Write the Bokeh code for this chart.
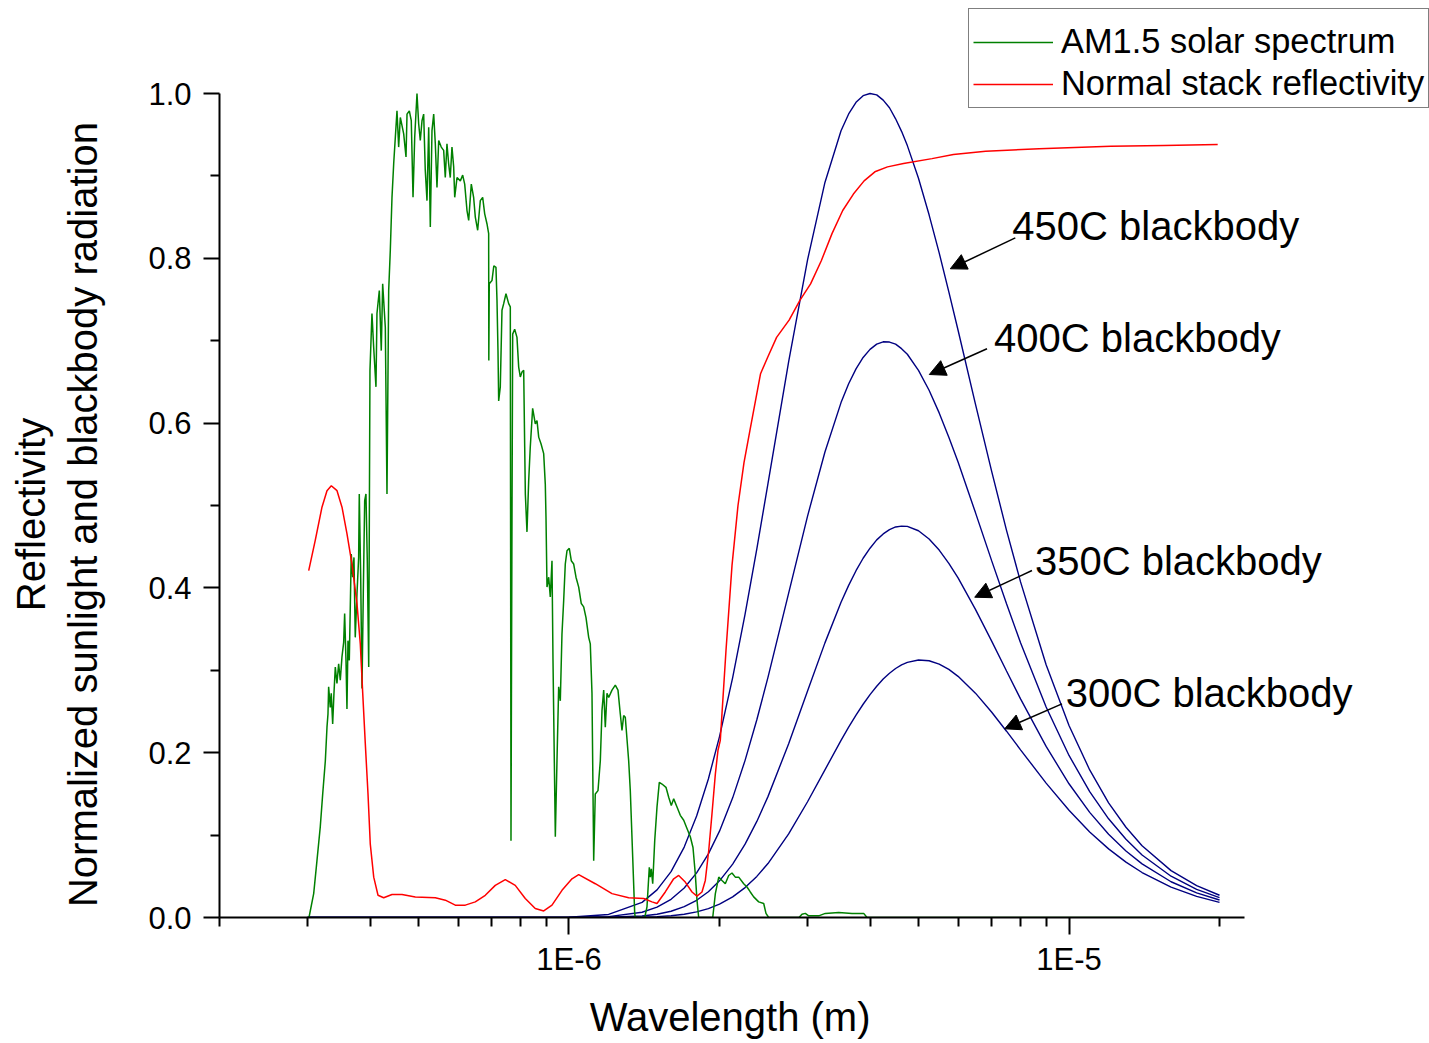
from bokeh.plotting import figure
from bokeh.models import (FixedTicker, Range1d, Legend, LegendItem, Label, Arrow,
                          NormalHead, CustomJSTickFormatter, PrintfTickFormatter)
from bokeh.embed import file_html
from bokeh.resources import INLINE

UM = 1e-6  # values below are in micrometres

# ---------------- AM1.5 solar spectrum (normalized) ----------------
am15_wl_um = [
    0.302, 0.3086, 0.3133, 0.3181, 0.3217, 0.3256, 0.3281, 0.3296, 0.3306, 0.3331,
    0.3346, 0.3368, 0.3388, 0.3409, 0.3435, 0.3462, 0.3488, 0.3515, 0.3543, 0.3559,
    0.3581, 0.3597, 0.3614, 0.3636, 0.3669, 0.3693, 0.3715, 0.3737, 0.3767, 0.3796,
    0.3807, 0.3832, 0.3855, 0.3878, 0.3903, 0.3926, 0.3950, 0.3976, 0.3999, 0.4036,
    0.4068, 0.4111, 0.4130, 0.4175, 0.4213, 0.4240, 0.4292, 0.4325, 0.4359, 0.4392,
    0.4426, 0.4461, 0.4529, 0.4564, 0.4599, 0.4671, 0.4721, 0.4743, 0.4794, 0.4837,
    0.4876, 0.4914, 0.4966, 0.5005, 0.5042, 0.5082, 0.5121, 0.5159, 0.5200, 0.5241,
    0.5280, 0.5321, 0.5363, 0.5403, 0.5445, 0.5488, 0.5553, 0.5615, 0.5657, 0.5701,
    0.5745, 0.5788, 0.5834, 0.5880, 0.5908, 0.5971, 0.6063, 0.6129, 0.6186, 0.6252,
    0.6301, 0.6377, 0.6446, 0.6496, 0.6567, 0.6647, 0.6720, 0.6783, 0.6854, 0.6908,
    0.6913, 0.6927, 0.7014, 0.7074, 0.7144, 0.7178, 0.7211, 0.7234, 0.7288, 0.7345,
    0.7403, 0.7481, 0.7575, 0.7632, 0.7656, 0.7691, 0.7716, 0.7787, 0.7870, 0.7932,
    0.7991, 0.8054, 0.8117, 0.8155, 0.8179, 0.8241, 0.8306, 0.8367, 0.8459, 0.8563,
    0.8630, 0.8698, 0.8791, 0.8900, 0.8966, 0.8995, 0.9037, 0.9108, 0.9175, 0.9247,
    0.9290, 0.9390, 0.9462, 0.9536, 0.9608, 0.9682, 0.9759, 0.9831, 0.9908, 1.0014,
    1.0106, 1.0219, 1.0328, 1.0457, 1.0582, 1.0700, 1.0815, 1.0949, 1.1031, 1.1117,
    1.1205, 1.1287, 1.1429, 1.1551, 1.1641, 1.1733, 1.1820, 1.1912, 1.2006, 1.2190,
    1.2377, 1.2531, 1.2665, 1.2764, 1.2864, 1.2960, 1.3164, 1.3262, 1.3410, 1.3534,
    1.3572, 1.4173, 1.4322, 1.4475, 1.4542, 1.4609, 1.4704, 1.4840, 1.4997, 1.5157,
    1.5346, 1.5631, 1.5827, 1.6018, 1.6196, 1.6444, 1.6696, 1.6960, 1.7219, 1.7483,
    1.7701, 1.7889, 1.8030, 1.8171, 1.9386, 1.9620, 1.9930, 2.0230, 2.0540, 2.0865,
    2.1184, 2.1509, 2.1849, 2.2358, 2.2699, 2.3047, 2.3411, 2.3956, 2.4514, 2.4774,
    2.5084, 2.884, 2.9242, 2.9690, 3.0158, 3.1580, 3.2556, 3.4624, 3.6813, 3.8851,
    3.9446, 20.0,
]
am15_val = [
    0.000, 0.029, 0.069, 0.110, 0.150, 0.190, 0.231, 0.247, 0.280, 0.255,
    0.272, 0.235, 0.272, 0.304, 0.284, 0.308, 0.288, 0.316, 0.334, 0.369,
    0.312, 0.253, 0.336, 0.312, 0.441, 0.413, 0.437, 0.340, 0.393, 0.437,
    0.514, 0.413, 0.278, 0.393, 0.506, 0.514, 0.433, 0.304, 0.664, 0.733,
    0.692, 0.644, 0.733, 0.761, 0.688, 0.769, 0.716, 0.514, 0.761, 0.810,
    0.874, 0.915, 0.979, 0.935, 0.971, 0.951, 0.923, 0.975, 0.979, 0.967,
    0.874, 0.947, 1.000, 0.963, 0.943, 0.967, 0.975, 0.907, 0.870, 0.959,
    0.838, 0.955, 0.975, 0.939, 0.886, 0.943, 0.935, 0.931, 0.898, 0.939,
    0.915, 0.898, 0.935, 0.911, 0.874, 0.898, 0.894, 0.901, 0.890, 0.858,
    0.846, 0.890, 0.874, 0.850, 0.834, 0.870, 0.874, 0.854, 0.842, 0.830,
    0.676, 0.769, 0.773, 0.791, 0.789, 0.749, 0.688, 0.627, 0.644, 0.737,
    0.745, 0.757, 0.745, 0.741, 0.093, 0.482, 0.708, 0.714, 0.704, 0.668,
    0.656, 0.662, 0.664, 0.571, 0.514, 0.468, 0.530, 0.571, 0.618, 0.599,
    0.603, 0.583, 0.575, 0.563, 0.526, 0.486, 0.401, 0.413, 0.389, 0.433,
    0.312, 0.098, 0.190, 0.280, 0.263, 0.344, 0.385, 0.429, 0.445, 0.448,
    0.433, 0.429, 0.413, 0.401, 0.381, 0.377, 0.364, 0.340, 0.332, 0.272,
    0.069, 0.150, 0.154, 0.190, 0.251, 0.276, 0.231, 0.272, 0.267, 0.276,
    0.282, 0.276, 0.247, 0.227, 0.245, 0.243, 0.190, 0.154, 0.073, 0.005,
    0.000, 0.000, 0.013, 0.061, 0.049, 0.059, 0.041, 0.093, 0.134, 0.164,
    0.162, 0.158, 0.146, 0.136, 0.144, 0.134, 0.124, 0.118, 0.108, 0.098,
    0.085, 0.053, 0.021, 0.000, 0.000, 0.029, 0.049, 0.045, 0.041, 0.051,
    0.054, 0.049, 0.049, 0.041, 0.037, 0.031, 0.025, 0.019, 0.017, 0.005,
    0.000, 0.000, 0.004, 0.005, 0.002, 0.002, 0.005, 0.006, 0.005, 0.005,
    0.000, 0.000,
]

# ---------------- Normal stack reflectivity ----------------
refl_wl_um = [
    0.3016, 0.3109, 0.3206, 0.3281, 0.3347, 0.3436, 0.3516, 0.3597, 0.3681, 0.3767,
    0.3825, 0.3868, 0.3914, 0.3963, 0.4005, 0.4069, 0.4150, 0.4260, 0.4426, 0.4634,
    0.4928, 0.5403, 0.5658, 0.5924, 0.6203, 0.6495, 0.6801, 0.7121, 0.7457, 0.7808,
    0.8176, 0.8561, 0.8901, 0.9247, 0.9683, 1.0139, 1.0457, 1.1288, 1.2190, 1.3164,
    1.4107, 1.4655, 1.4997, 1.5580, 1.6196, 1.6573, 1.7082, 1.7620, 1.8030, 1.8450,
    1.8733, 1.9029, 1.9320, 1.9620, 1.9861, 2.0073, 2.0606, 2.1184, 2.1777, 2.2387,
    2.3004, 2.4162, 2.4968, 2.6013, 2.7555, 2.8958, 3.0420, 3.1959, 3.3574, 3.5272,
    3.7052, 3.8923, 4.0904, 4.3351, 4.6666, 5.3211, 5.8720, 6.8123, 8.7136, 12.115,
    15.488, 19.833,
]
refl_val = [
    0.421, 0.458, 0.498, 0.518, 0.524, 0.518, 0.498, 0.466, 0.429, 0.381,
    0.332, 0.272, 0.211, 0.150, 0.089, 0.049, 0.027, 0.024, 0.028, 0.028,
    0.025, 0.024, 0.021, 0.015, 0.015, 0.019, 0.027, 0.039, 0.046, 0.039,
    0.023, 0.011, 0.008, 0.015, 0.033, 0.047, 0.052, 0.041, 0.029, 0.024,
    0.023, 0.019, 0.017, 0.031, 0.047, 0.051, 0.043, 0.031, 0.026, 0.031,
    0.045, 0.081, 0.126, 0.174, 0.203, 0.215, 0.324, 0.427, 0.500, 0.552,
    0.591, 0.660, 0.680, 0.704, 0.725, 0.749, 0.769, 0.797, 0.830, 0.858,
    0.878, 0.894, 0.905, 0.911, 0.915, 0.921, 0.926, 0.930, 0.933, 0.936,
    0.937, 0.938,
]

# ---------------- Blackbody curves (normalized to 450C peak) ----------------
bb_wl_um = [
    0.3, 0.8, 1.0, 1.2, 1.4, 1.5, 1.6, 1.7, 1.8, 1.9, 2.0, 2.125, 2.25, 2.375, 2.5,
    2.75, 3.0, 3.25, 3.5, 3.625, 3.75, 3.875, 4.0, 4.125, 4.25, 4.375, 4.5, 4.625,
    4.75, 5.0, 5.25, 5.5, 5.75, 6.0, 6.5, 7.0, 7.5, 8.0, 9.0, 10.0, 11.0, 12.0,
    13.0, 14.0, 16.0, 18.0, 20.0,
]
bb_450c = [
    0.0, 0.0, 0.0003, 0.0037, 0.0184, 0.0335, 0.0557, 0.0855, 0.1231, 0.1681, 0.2196,
    0.2912, 0.3683, 0.4475, 0.5265, 0.6746, 0.7982, 0.8921, 0.9548, 0.9752, 0.9893,
    0.9974, 1.000, 0.9984, 0.992, 0.9827, 0.9693, 0.9541, 0.9368, 0.8972, 0.8528,
    0.8066, 0.7592, 0.7127, 0.6231, 0.5420, 0.4699, 0.4073, 0.3068, 0.2330, 0.1791,
    0.1392, 0.1095, 0.0871, 0.0569, 0.0386, 0.0270,
]
bb_400c = [
    0.0, 0.0, 0.0001, 0.0011, 0.0064, 0.0125, 0.0221, 0.0358, 0.0541, 0.0772, 0.1048,
    0.1452, 0.1907, 0.2400, 0.2915, 0.3937, 0.4872, 0.5650, 0.6249, 0.6477, 0.6658,
    0.6797, 0.6895, 0.6959, 0.6987, 0.6984, 0.6958, 0.6904, 0.6836, 0.6641, 0.6399,
    0.6124, 0.5828, 0.5527, 0.4914, 0.4334, 0.3807, 0.3334, 0.2555, 0.1967, 0.1528,
    0.1198, 0.0949, 0.0759, 0.0501, 0.0342, 0.0241,
]
bb_350c = [
    0.0, 0.0, 0.0, 0.0003, 0.0019, 0.0040, 0.0076, 0.0131, 0.0209, 0.0313, 0.0445,
    0.0648, 0.0890, 0.1166, 0.1467, 0.2109, 0.2750, 0.3333, 0.3825, 0.4031, 0.4209,
    0.4360, 0.4482, 0.4583, 0.4655, 0.4707, 0.4740, 0.4750, 0.4747, 0.4694, 0.4594,
    0.4459, 0.4298, 0.4121, 0.3740, 0.3357, 0.2991, 0.2653, 0.2076, 0.1623, 0.1276,
    0.1011, 0.0808, 0.0651, 0.0434, 0.0299, 0.0212,
]
bb_300c = [
    0.0, 0.0, 0.0, 0.0, 0.0004, 0.0010, 0.0021, 0.0040, 0.0068, 0.0108, 0.0162,
    0.0251, 0.0363, 0.0499, 0.0655, 0.1014, 0.1405, 0.1792, 0.2149, 0.2310, 0.2457,
    0.2588, 0.2705, 0.2807, 0.2894, 0.2964, 0.3022, 0.3066, 0.3096, 0.3125, 0.3116,
    0.3076, 0.3011, 0.2927, 0.2723, 0.2494, 0.2261, 0.2035, 0.1631, 0.1301, 0.1038,
    0.0833, 0.0672, 0.0546, 0.0369, 0.0257, 0.0183,
]

# annotations: text, text anchor (um, value), arrow start (um, value), arrow tip (um, value)
ann_texts = ["450C blackbody", "400C blackbody", "350C blackbody", "300C blackbody"]
ann_text_wl_um = [7.702, 7.080, 8.549, 9.849]
ann_text_val = [0.8392, 0.7036, 0.4326, 0.2728]
ann_start_wl_um = [7.809, 6.855, 8.433, 9.683]
ann_start_val = [0.8249, 0.6902, 0.4211, 0.2593]
ann_tip_wl_um = [5.789, 5.256, 6.478, 7.437]
ann_tip_val = [0.7873, 0.659, 0.3887, 0.2290]

# axes
x_axis_start, x_axis_end = 2e-7, 2.24e-5
x_major = [1e-6, 1e-5]
x_major_labels = ["1E-6", "1E-5"]
x_minor = [2e-7, 3e-7, 4e-7, 5e-7, 6e-7, 7e-7, 8e-7, 9e-7,
           2e-6, 3e-6, 4e-6, 5e-6, 6e-6, 7e-6, 8e-6, 9e-6, 2e-5]
y_axis_start, y_axis_end = 0.0, 1.0
y_major = [0.0, 0.2, 0.4, 0.6, 0.8, 1.0]
y_minor = [0.1, 0.3, 0.5, 0.7, 0.9]

FONT = "Liberation Sans"
GREEN = "#008000"
RED = "#ff0000"
BLUE = "#000080"
NBSP = "\u00a0"


def m(vals):
    return [v * UM for v in vals]


# the frame spans to the right/top page edge so the legend and labels are not clipped;
# axis lines are limited with `bounds`.
p = figure(x_axis_type="log", x_range=Range1d(2e-7, 5.26e-5), y_range=Range1d(0, 1.1129),
           frame_width=1210, frame_height=917,
           min_border_left=219, min_border_top=0, min_border_right=0, min_border_bottom=126,
           output_backend="svg", toolbar_location=None,
           background_fill_color="white", border_fill_color="white")
p.outline_line_color = None
p.grid.visible = False

for arr in (bb_450c, bb_400c, bb_350c, bb_300c):
    p.line(m(bb_wl_um), arr, line_color=BLUE, line_width=1.4)

g = p.line(m(am15_wl_um), am15_val, line_color=GREEN, line_width=1.5)
r = p.line(m(refl_wl_um), refl_val, line_color=RED, line_width=1.5)

# x axis
xa = p.xaxis[0]
xa.bounds = (x_axis_start, x_axis_end)
xa.ticker = FixedTicker(ticks=x_major, minor_ticks=x_minor)
xa.formatter = CustomJSTickFormatter(args=dict(major_vals=x_major, major_texts=x_major_labels), code="""
for (let i = 0; i < major_vals.length; i++) {
  if (Math.abs(Math.log10(tick) - Math.log10(major_vals[i])) < 1e-6) { return major_texts[i]; }
}
return "";
""")
# trailing no-break spaces shift the centred label over the bounded axis
xa.axis_label = "Wavelength (m)" + NBSP * 17
xa.major_tick_out = 17
xa.minor_tick_out = 9
xa.major_label_standoff = 7
xa.axis_label_standoff = 15

# y axis
ya = p.yaxis[0]
ya.bounds = (y_axis_start, y_axis_end)
ya.ticker = FixedTicker(ticks=y_major, minor_ticks=y_minor)
ya.formatter = PrintfTickFormatter(format="%.1f")
ya.axis_label = ("Reflectivity" + NBSP * 10 + "\n" +
                 "Normalized sunlight and blackbody radiation" + NBSP * 10)
ya.major_tick_out = 16
ya.minor_tick_out = 9
ya.major_label_standoff = 12
ya.axis_label_standoff = 40

for ax in (xa, ya):
    ax.axis_line_width = 2
    ax.axis_line_color = "black"
    ax.major_tick_line_width = 2
    ax.minor_tick_line_width = 2
    ax.major_tick_line_color = "black"
    ax.minor_tick_line_color = "black"
    ax.major_tick_in = 0
    ax.minor_tick_in = 0
    ax.major_label_text_font = FONT
    ax.major_label_text_font_size = "31px"
    ax.major_label_text_color = "black"
    ax.axis_label_text_font = FONT
    ax.axis_label_text_font_size = "40px"
    ax.axis_label_text_font_style = "normal"
    ax.axis_label_text_color = "black"

ya.major_label_orientation = "horizontal"

# annotations
for i in range(len(ann_texts)):
    p.add_layout(Arrow(end=NormalHead(size=16, fill_color="black", line_color="black"),
                       x_start=ann_start_wl_um[i] * UM, y_start=ann_start_val[i],
                       x_end=ann_tip_wl_um[i] * UM, y_end=ann_tip_val[i],
                       line_color="black", line_width=1.5))
    p.add_layout(Label(x=ann_text_wl_um[i] * UM, y=ann_text_val[i], text=ann_texts[i],
                       text_font=FONT, text_font_size="40px", text_color="black",
                       text_align="left", text_baseline="alphabetic"))

legend = Legend(items=[LegendItem(label="AM1.5 solar spectrum", renderers=[g]),
                       LegendItem(label="Normal stack reflectivity", renderers=[r])],
                location=(749, 809))
legend.title = " "
legend.title_text_font_size = "6px"
legend.title_standoff = 3
legend.label_text_font = FONT
legend.label_text_font_size = "34.4px"
legend.label_text_color = "black"
legend.glyph_width = 80
legend.glyph_height = 20
legend.label_standoff = 8
legend.padding = 4
legend.spacing = 3
legend.margin = 0
legend.border_line_color = "black"
legend.border_line_width = 1
legend.background_fill_color = "white"
legend.background_fill_alpha = 1.0
p.add_layout(legend)

open("out.html", "w").write(file_html(p, INLINE))
